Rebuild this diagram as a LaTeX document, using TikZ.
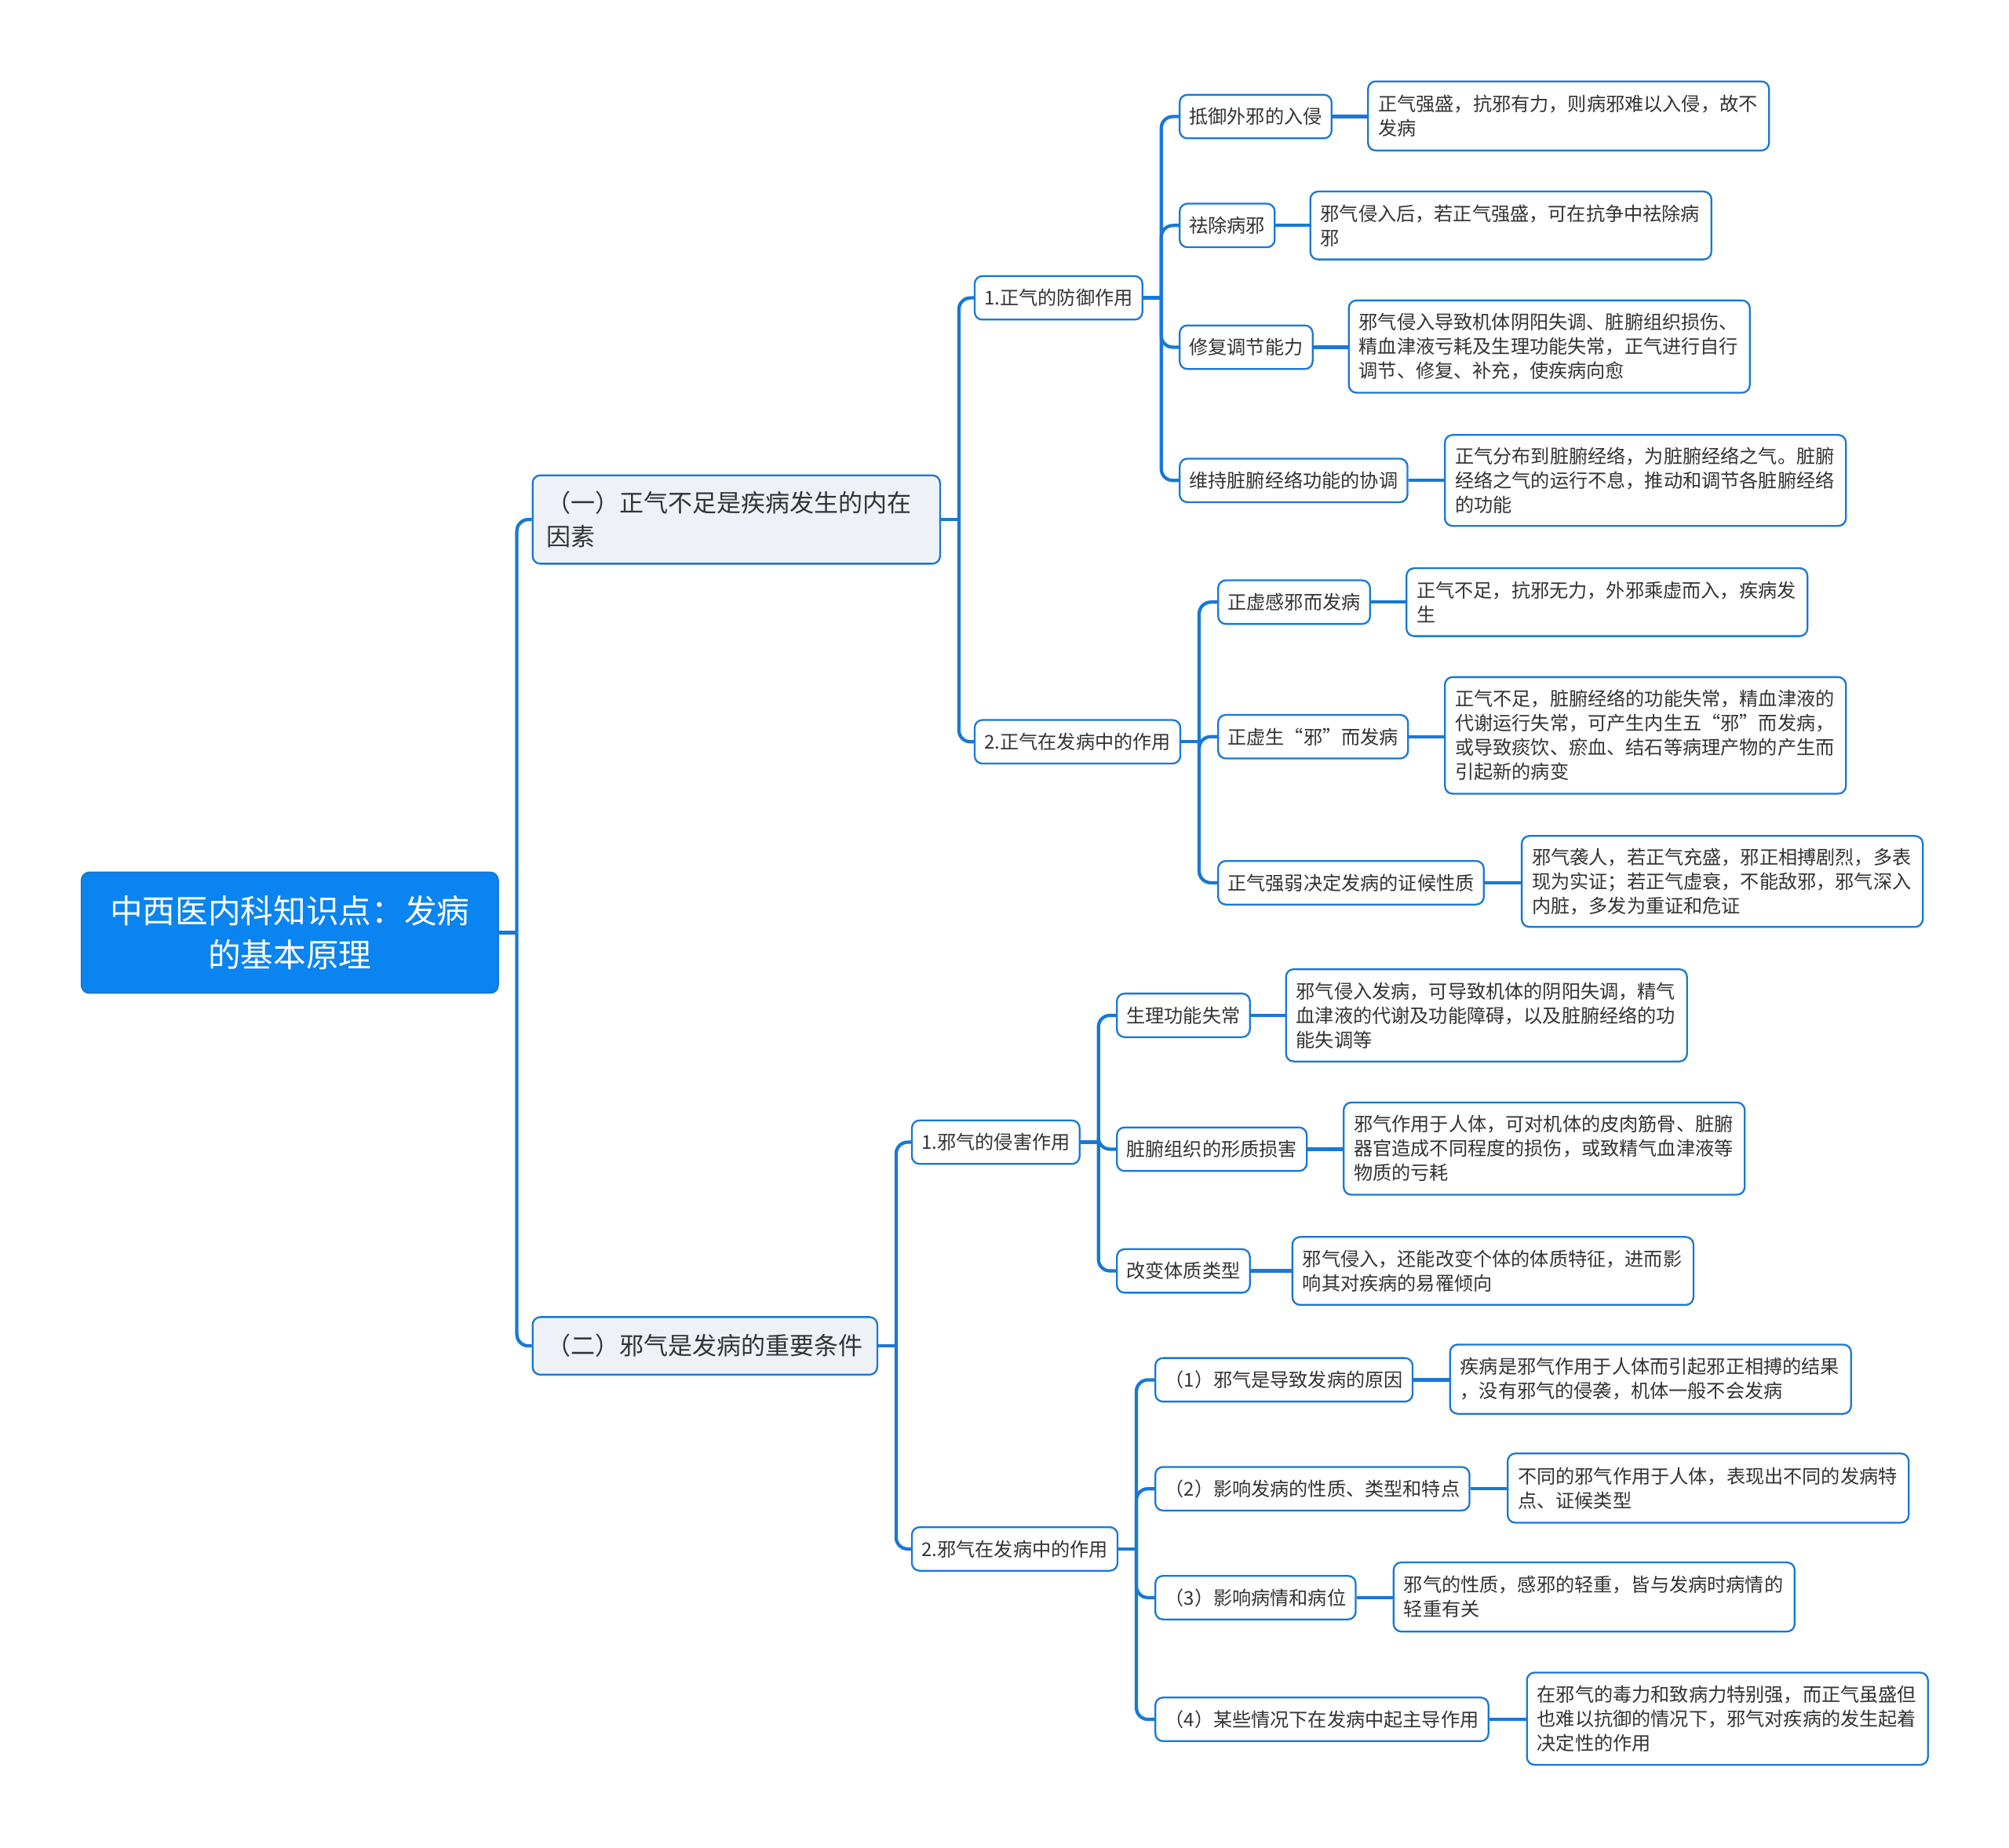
\documentclass[tikz,border=0pt]{standalone}
\usepackage{fontspec}
\setmainfont{Noto Sans CJK SC}
\definecolor{linec}{RGB}{24,120,214}
\definecolor{rootc}{RGB}{10,132,240}
\definecolor{lvonec}{RGB}{238,242,247}
\definecolor{txtc}{RGB}{51,51,51}
\tikzset{
  base/.style={draw=linec, line width=1.4pt, rounded corners=6pt, anchor=west, text=txtc, inner ysep=2pt},
  rootbox/.style={base, fill=rootc, text=white, align=center, minimum width=325pt, minimum height=94pt, font=\fontsize{25.5}{34}\selectfont},
  lvone/.style={base, fill=lvonec, inner xsep=11pt, align=left, font=\fontsize{19}{26}\selectfont},
  lvtwo/.style={base, fill=white, inner xsep=7.5pt, minimum height=34pt, font=\fontsize{14.8}{19}\selectfont},
  leaf/.style={base, fill=white, inner xsep=8pt, text width=297pt, align=left, font=\fontsize{14.8}{19}\selectfont},
  conn/.style={draw=linec, line width=2.6pt},
  elbow/.style={conn, rounded corners=9pt}
}
\newcommand{\forkto}[2]{\draw[conn] (#1.east) -- ([xshift=14pt]#1.east);
  \foreach \c in {#2} {\draw[elbow] ([xshift=14pt]#1.east) |- (\c.west);}}
\begin{document}
\begin{tikzpicture}[x=1pt,y=-1pt]
\useasboundingbox (0,0) rectangle (1568,1442);
% root
\node[rootbox] (root) at (63,728) {中西医内科知识点：发病\\的基本原理};
% level 1
\node[lvone, minimum height=69pt, text width=296pt] (A) at (415,405.5) {（一）正气不足是疾病发生的内在\\因素};
\node[lvone, minimum height=45pt] (B) at (415,1050.5) {（二）邪气是发病的重要条件};
% level 2
\node[lvtwo] (A1) at (760,232.5) {1.正气的防御作用};
\node[lvtwo] (A2) at (760,579) {2.正气在发病中的作用};
\node[lvtwo] (B1) at (711,891.5) {1.邪气的侵害作用};
\node[lvtwo] (B2) at (711,1209) {2.邪气在发病中的作用};
% level 3
\node[lvtwo] (A1a) at (920,91) {抵御外邪的入侵};
\node[lvtwo] (A1b) at (920,176) {祛除病邪};
\node[lvtwo] (A1c) at (920,271) {修复调节能力};
\node[lvtwo] (A1d) at (920,375) {维持脏腑经络功能的协调};
\node[lvtwo] (A2a) at (950,470) {正虚感邪而发病};
\node[lvtwo] (A2b) at (950,575) {正虚生“邪”而发病};
\node[lvtwo] (A2c) at (950,689) {正气强弱决定发病的证候性质};
\node[lvtwo] (B1a) at (871,792.5) {生理功能失常};
\node[lvtwo] (B1b) at (871,897) {脏腑组织的形质损害};
\node[lvtwo] (B1c) at (871,992) {改变体质类型};
\node[lvtwo] (B2a) at (901,1077) {（1）邪气是导致发病的原因};
\node[lvtwo] (B2b) at (901,1162) {（2）影响发病的性质、类型和特点};
\node[lvtwo] (B2c) at (901,1247) {（3）影响病情和病位};
\node[lvtwo] (B2d) at (901,1342) {（4）某些情况下在发病中起主导作用};
% leaves
\node[leaf, minimum height=54pt] (A1aL) at (1067,90.5) {正气强盛，抗邪有力，则病邪难以入侵，故不\\发病};
\node[leaf, minimum height=53pt] (A1bL) at (1022,176) {邪气侵入后，若正气强盛，可在抗争中祛除病\\邪};
\node[leaf, minimum height=72pt] (A1cL) at (1052,270.5) {邪气侵入导致机体阴阳失调、脏腑组织损伤、\\精血津液亏耗及生理功能失常，正气进行自行\\调节、修复、补充，使疾病向愈};
\node[leaf, minimum height=71pt] (A1dL) at (1127,375) {正气分布到脏腑经络，为脏腑经络之气。脏腑\\经络之气的运行不息，推动和调节各脏腑经络\\的功能};
\node[leaf, minimum height=53pt] (A2aL) at (1097,470) {正气不足，抗邪无力，外邪乘虚而入，疾病发\\生};
\node[leaf, minimum height=91pt] (A2bL) at (1127,574) {正气不足，脏腑经络的功能失常，精血津液的\\代谢运行失常，可产生内生五“邪”而发病，\\或导致痰饮、瘀血、结石等病理产物的产生而\\引起新的病变};
\node[leaf, minimum height=71pt] (A2cL) at (1187,688) {邪气袭人，若正气充盛，邪正相搏剧烈，多表\\现为实证；若正气虚衰，不能敌邪，邪气深入\\内脏，多发为重证和危证};
\node[leaf, minimum height=72pt] (B1aL) at (1003,792.5) {邪气侵入发病，可导致机体的阴阳失调，精气\\血津液的代谢及功能障碍，以及脏腑经络的功\\能失调等};
\node[leaf, minimum height=72pt] (B1bL) at (1048,896.5) {邪气作用于人体，可对机体的皮肉筋骨、脏腑\\器官造成不同程度的损伤，或致精气血津液等\\物质的亏耗};
\node[leaf, minimum height=53pt] (B1cL) at (1008,992) {邪气侵入，还能改变个体的体质特征，进而影\\响其对疾病的易罹倾向};
\node[leaf, minimum height=54pt] (B2aL) at (1131,1076.5) {疾病是邪气作用于人体而引起邪正相搏的结果\\，没有邪气的侵袭，机体一般不会发病};
\node[leaf, minimum height=54pt] (B2bL) at (1176,1161.5) {不同的邪气作用于人体，表现出不同的发病特\\点、证候类型};
\node[leaf, minimum height=54pt] (B2cL) at (1087,1246.5) {邪气的性质，感邪的轻重，皆与发病时病情的\\轻重有关};
\node[leaf, minimum height=72pt] (B2dL) at (1191,1341.5) {在邪气的毒力和致病力特别强，而正气虽盛但\\也难以抗御的情况下，邪气对疾病的发生起着\\决定性的作用};
% connectors
\forkto{root}{A,B}
\forkto{A}{A1,A2}
\forkto{B}{B1,B2}
\forkto{A1}{A1a,A1b,A1c,A1d}
\forkto{A2}{A2a,A2b,A2c}
\forkto{B1}{B1a,B1b,B1c}
\forkto{B2}{B2a,B2b,B2c,B2d}
\foreach \n in {A1a,A1b,A1c,A1d,A2a,A2b,A2c,B1a,B1b,B1c,B2a,B2b,B2c,B2d}
  {\draw[conn] (\n.east) -- (\n.east -| \n L.west);}
\end{tikzpicture}
\end{document}
